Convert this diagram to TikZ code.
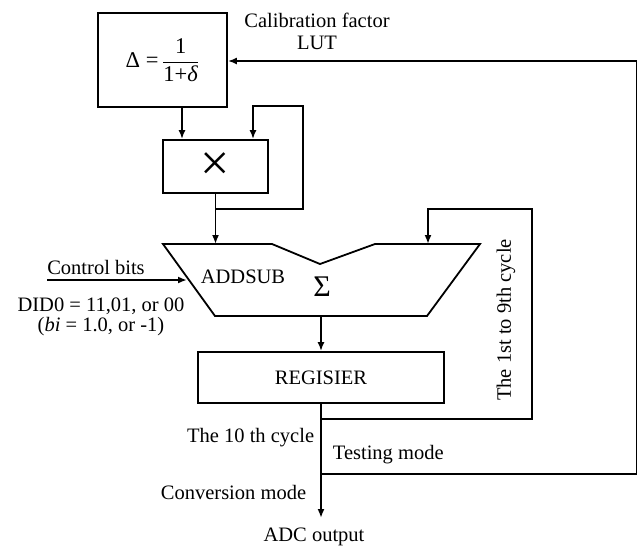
\documentclass[tikz,border=0pt]{standalone}
\usepackage{fontspec}
\setmainfont{Liberation Serif}
\usetikzlibrary{arrows.meta}
\begin{document}
\begin{tikzpicture}[x=1pt,y=-1pt, line width=1.8pt,
  arr/.style={-{Latex[length=9pt,width=7pt]}},
  lbl/.style={font=\fontsize{20.5}{22}\selectfont, inner sep=0pt},
  blk/.style={draw, inner sep=0pt, font=\fontsize{20.5}{22}\selectfont}]
\useasboundingbox (0,0) rectangle (640,547);
% blocks
\node[blk, minimum width=129pt, minimum height=94pt, font=\fontsize{22.5}{24}\selectfont] (lut) at (162.5,60) {$\displaystyle\hbox{Δ =\,}\frac{\hbox{1}}{\hbox{1+\textit{δ}}}$};
\node[blk, minimum width=105pt, minimum height=53pt] (mult) at (215.5,166.5) {\fontsize{52}{54}\selectfont ×};
\node[blk, minimum width=246pt, minimum height=51pt] (reg) at (321,377.5) {REGISIER};
% ADDSUB shape
\coordinate (a1) at (163,244);
\coordinate (a2) at (272,244);
\coordinate (a3) at (320,264);
\coordinate (a4) at (375,244);
\coordinate (a5) at (480,244);
\coordinate (a6) at (427,316);
\coordinate (a7) at (215,316);
\draw (a1) -- (a2) -- (a3) -- (a4) -- (a5) -- (a6) -- (a7) -- cycle;
\coordinate (addin) at (215.5,244);
\coordinate (fbin) at (428,244);
\coordinate (addout) at (321,316);
\coordinate (ctrl) at (187,280);
\coordinate (ctrlstart) at (47,280);
% texts
\node[lbl] (cal) at (317,20) {Calibration factor};
\node[lbl] (lutt) at (317,43) {LUT};
\node[lbl] (ctl) at (96,267) {Control bits};
\node[lbl] (did) at (101,306) {DID0 = 11,01, or 00};
\node[lbl] (bi) at (101,327) {(\textit{bi} = 1.0, or -1)};
\node[lbl] (addsub) at (243,277) {ADDSUB};
\node[lbl, font=\fontsize{30}{32}\selectfont] (sig) at (322,287) {Σ};
\node[lbl, rotate=90] (c19) at (506,320) {The 1st to 9th cycle};
\node[lbl, anchor=east] (c10) at (315,438) {The 10 th cycle};
\node[lbl, anchor=west] (tm) at (332,455) {Testing mode};
\node[lbl, anchor=east] (cm) at (307,492) {Conversion mode};
\node[lbl] (adc) at (314,537) {ADC output};
% connectors
\draw[arr] (lut.south -| 182,0) -- (mult.north -| 182,0);
\coordinate (j1) at (215.5,209);
\draw[arr] (mult.south) -- (addin);
\draw[arr] (j1) -- (303,209) -- (303,106) -- (253,106) -- (mult.north -| 253,0);
\draw[arr] (ctrlstart) -- (ctrl);
\draw[arr] (addout) -- (reg.north);
\coordinate (out) at (321,518);
\draw[arr] (reg.south) -- (out);
\coordinate (j2) at (321,419);
\draw[arr] (j2) -- (532,419) -- (532,209) -- (428,209) -- (fbin);
\coordinate (j3) at (321,474);
\draw[arr] (j3) -- (636.5,474) -- (636.5,61) -- (lut.east |- 0,61);
\end{tikzpicture}
\end{document}
